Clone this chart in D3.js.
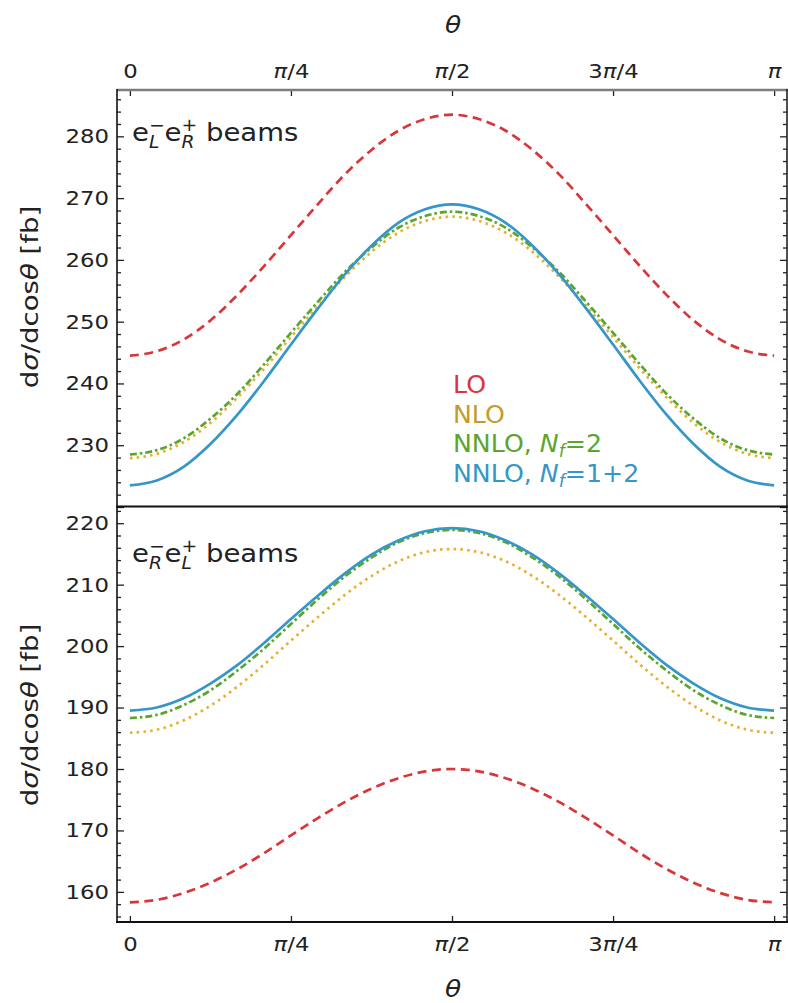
<!DOCTYPE html>
<html>
<head>
<meta charset="utf-8">
<script src="https://cdn.jsdelivr.net/npm/d3@7"></script>
<style>
  body { margin: 0; background: #fff; }
  text { font-family: "DejaVu Sans", sans-serif; }
</style>
</head>
<body>
<div id="chart"></div>
<script>
// theta in units of pi (steps of pi/24)
const thetaPi = [0, 1/24, 2/24, 3/24, 4/24, 5/24, 6/24, 7/24, 8/24, 9/24, 10/24, 11/24, 12/24,
  13/24, 14/24, 15/24, 16/24, 17/24, 18/24, 19/24, 20/24, 21/24, 22/24, 23/24, 1];
const xTicks = [0, 0.25, 0.5, 0.75, 1];
const xTickLabels = ['0', 'π/4', 'π/2', '3π/4', 'π'];

// e_L^- e_R^+ beams (top panel)
const topLO     = [244.5, 245.2, 247.1, 250.2, 254.3, 259.0, 264.0, 269.0, 273.8, 277.8, 280.9, 282.8, 283.5,
                   282.8, 280.9, 277.8, 273.8, 269.0, 264.0, 259.0, 254.3, 250.2, 247.1, 245.2, 244.5];
const topNLO    = [227.9, 228.6, 230.5, 233.6, 237.7, 242.4, 247.5, 252.5, 257.2, 261.3, 264.4, 266.3, 267.0,
                   266.3, 264.4, 261.3, 257.2, 252.5, 247.5, 242.4, 237.7, 233.6, 230.5, 228.6, 227.9];
const topNNLO2  = [228.5, 229.2, 231.1, 234.3, 238.3, 243.1, 248.2, 253.2, 258.0, 262.0, 265.2, 267.1, 267.8,
                   267.1, 265.2, 262.0, 258.0, 253.2, 248.2, 243.1, 238.3, 234.3, 231.1, 229.2, 228.5];
const topNNLO12 = [223.5, 224.3, 226.5, 230.2, 234.9, 240.4, 246.3, 252.1, 257.6, 262.3, 266.0, 268.2, 269.0,
                   268.2, 266.0, 262.3, 257.6, 252.1, 246.3, 240.4, 234.9, 230.2, 226.5, 224.3, 223.5];

// e_R^- e_L^+ beams (bottom panel)
const botLO     = [158.3, 158.7, 159.8, 161.5, 163.7, 166.3, 169.2, 172.0, 174.6, 176.8, 178.5, 179.6, 180.0,
                   179.6, 178.5, 176.8, 174.6, 172.0, 169.2, 166.3, 163.7, 161.5, 159.8, 158.7, 158.3];
const botNLO    = [185.9, 186.4, 187.9, 190.3, 193.4, 197.0, 200.9, 204.7, 208.3, 211.4, 213.8, 215.3, 215.8,
                   215.3, 213.8, 211.4, 208.3, 204.7, 200.9, 197.0, 193.4, 190.3, 187.9, 186.4, 185.9];
const botNNLO2  = [188.3, 188.8, 190.4, 192.8, 196.0, 199.6, 203.6, 207.6, 211.3, 214.4, 216.9, 218.4, 218.9,
                   218.4, 216.9, 214.4, 211.3, 207.6, 203.6, 199.6, 196.0, 192.8, 190.4, 188.8, 188.3];
const botNNLO12 = [189.5, 190.0, 191.5, 193.9, 196.9, 200.5, 204.4, 208.2, 211.8, 214.9, 217.2, 218.7, 219.2,
                   218.7, 217.2, 214.9, 211.8, 208.2, 204.4, 200.5, 196.9, 193.9, 191.5, 190.0, 189.5];

const topYTicks = [230, 240, 250, 260, 270, 280];
const botYTicks = [160, 170, 180, 190, 200, 210, 220];

const legendLabels = ['LO', 'NLO', 'NNLO, N_f=2', 'NNLO, N_f=1+2'];

// line styles per series
const styles = [
  {color: '#d8363a', text: '#d8363a', dash: '9,5.5'},
  {color: '#e6b032', text: '#c59b2e', dash: '2.6,4.2'},
  {color: '#5ba52c', text: '#5ba52c', dash: '7,3,2.5,3'},
  {color: '#3596c8', text: '#3596c8', dash: null}
];

const W = 788, H = 1003;
const SX = 1.14; // horizontal stretch of the tick text in the reference

const svg = d3.select('#chart').append('svg')
  .attr('width', W)
  .attr('height', H);

const x = d3.scaleLinear().domain([-0.02, 1.02]).range([117, 787]);
const yTop = d3.scaleLinear().domain([220, 287.5]).range([507, 90]);
const yBot = d3.scaleLinear().domain([155.1, 222.8]).range([922, 506]);

function piLabel(textSel, s) {
  textSel.text(null);
  const parts = s.split('π');
  parts.forEach((p, i) => {
    if (p) textSel.append('tspan').text(p);
    if (i < parts.length - 1) textSel.append('tspan').attr('font-style', 'italic').text('π');
  });
}

function drawPanel(y, series, top, bottom, id) {
  svg.append('clipPath').attr('id', id)
    .append('rect')
    .attr('x', 117).attr('y', top)
    .attr('width', 670).attr('height', bottom - top);

  const line = d3.line()
    .x((d, i) => x(thetaPi[i]))
    .y(d => y(d))
    .curve(d3.curveMonotoneX);

  const g = svg.append('g').attr('clip-path', 'url(#' + id + ')');
  g.selectAll('path')
    .data(series)
    .enter()
    .append('path')
    .attr('d', d => line(d))
    .attr('fill', 'none')
    .attr('stroke', (d, i) => styles[i].color)
    .attr('stroke-width', 2.7)
    .attr('stroke-dasharray', (d, i) => styles[i].dash);
}

drawPanel(yTop, [topLO, topNLO, topNNLO2, topNNLO12], 90, 507, 'clipTop');
drawPanel(yBot, [botLO, botNLO, botNNLO2, botNNLO12], 506, 922, 'clipBot');

// y axes with inward ticks
function yAxes(y, majors, minors) {
  const left = svg.append('g').attr('transform', 'translate(117,0)');
  left.append('g')
    .call(d3.axisLeft(y).tickValues(minors).tickSize(-4).tickFormat(''));
  left.append('g')
    .call(d3.axisLeft(y).tickValues(majors).tickSize(-7).tickPadding(8 / SX))
    .selectAll('text')
    .attr('font-size', 20)
    .attr('font-family', 'DejaVu Sans')
    .attr('fill', '#222')
    .attr('transform', 'scale(' + SX + ',1)');

  const right = svg.append('g').attr('transform', 'translate(787,0)');
  right.append('g')
    .call(d3.axisRight(y).tickValues(minors).tickSize(-4).tickFormat(''));
  right.append('g')
    .call(d3.axisRight(y).tickValues(majors).tickSize(-7).tickFormat(''));

  svg.selectAll('.domain').remove();
  svg.selectAll('.tick line').attr('stroke', '#222').attr('stroke-width', 1.3);
}
yAxes(yTop, [220].concat(topYTicks), d3.range(222, 288, 2).filter(v => v % 10 != 0));
yAxes(yBot, botYTicks, d3.range(156, 223, 2).filter(v => v % 10 != 0));
// the top panel's 220 label is not shown in the reference
svg.selectAll('.tick text').filter(function(d) { return d === 220 && this.getCTM().f < 512; }).remove();

// x axes
const xTop = svg.append('g').attr('transform', 'translate(0,90)')
  .call(d3.axisTop(x).tickValues(xTicks).tickSize(-6).tickPadding(12));
const xBot = svg.append('g').attr('transform', 'translate(0,922)')
  .call(d3.axisBottom(x).tickValues(xTicks).tickSize(-6).tickPadding(15));

[xTop, xBot].forEach(ax => {
  ax.select('.domain').remove();
  ax.selectAll('.tick line').attr('stroke', '#222').attr('stroke-width', 1.3);
  ax.selectAll('text')
    .attr('font-size', 20)
    .attr('font-family', 'DejaVu Sans')
    .attr('fill', '#222')
    .attr('transform', 'scale(' + SX + ',1)')
    .each(function(d, i) { piLabel(d3.select(this), xTickLabels[i]); });
});

// spines
svg.append('line').attr('x1', 117).attr('x2', 788).attr('y1', 90).attr('y2', 90)
  .attr('stroke', '#7d7d7d').attr('stroke-width', 2.6);
svg.append('line').attr('x1', 117).attr('x2', 117).attr('y1', 89).attr('y2', 923)
  .attr('stroke', '#111').attr('stroke-width', 1.6);
svg.append('line').attr('x1', 787).attr('x2', 787).attr('y1', 89).attr('y2', 923)
  .attr('stroke', '#222').attr('stroke-width', 1.6);
svg.append('line').attr('x1', 116).attr('x2', 788).attr('y1', 506.5).attr('y2', 506.5)
  .attr('stroke', '#111').attr('stroke-width', 2.2);
svg.append('line').attr('x1', 116).attr('x2', 788).attr('y1', 922).attr('y2', 922)
  .attr('stroke', '#111').attr('stroke-width', 2);

// axis titles
function theta(yPos) {
  svg.append('text')
    .attr('transform', 'translate(453,' + yPos + ') scale(1.15,1)')
    .attr('text-anchor', 'middle')
    .attr('font-size', 23)
    .attr('font-style', 'italic')
    .attr('fill', '#222')
    .text('θ');
}
theta(33);
theta(997);

function yTitle(cy) {
  const t = svg.append('text')
    .attr('transform', 'translate(38,' + cy + ') rotate(-90) scale(1.2,1)')
    .attr('text-anchor', 'middle')
    .attr('font-size', 23)
    .attr('fill', '#222');
  t.append('tspan').text('d');
  t.append('tspan').attr('font-style', 'italic').text('σ');
  t.append('tspan').text('/dcos');
  t.append('tspan').attr('font-style', 'italic').text('θ');
  t.append('tspan').text(' [fb]');
}
yTitle(297);
yTitle(715);

// panel labels with stacked super/subscripts
function rich(px, py, parts, size) {
  const g = svg.append('g')
    .attr('transform', 'translate(' + px + ',' + py + ') scale(1.1,1)');
  let cx = 0, lastStart = 0;
  parts.forEach(p => {
    const fs = size * (p.s || 1);
    const start = p.stack ? lastStart : cx + (p.gap || 0) * size;
    const t = g.append('text')
      .attr('x', start)
      .attr('y', (p.dy || 0) * size)
      .attr('font-size', fs)
      .attr('font-style', p.i ? 'italic' : 'normal')
      .attr('fill', '#222')
      .text(p.t);
    const w = t.node().getComputedTextLength();
    if (p.stack) cx = Math.max(cx, start + w);
    else { lastStart = start; cx = start + w; }
  });
}
rich(132, 141, [
  {t: 'e'}, {t: '−', s: 0.68, dy: -0.42}, {t: 'L', s: 0.68, dy: 0.28, i: true, stack: true},
  {t: 'e'}, {t: '+', s: 0.68, dy: -0.42}, {t: 'R', s: 0.68, dy: 0.28, i: true, stack: true},
  {t: 'beams', gap: 0.32}
], 25);
rich(132, 562, [
  {t: 'e'}, {t: '−', s: 0.68, dy: -0.42}, {t: 'R', s: 0.68, dy: 0.28, i: true, stack: true},
  {t: 'e'}, {t: '+', s: 0.68, dy: -0.42}, {t: 'L', s: 0.68, dy: 0.28, i: true, stack: true},
  {t: 'beams', gap: 0.32}
], 25);

// legend (text only, coloured)
const legend = svg.append('g');
legendLabels.forEach((lab, i) => {
  const t = legend.append('text')
    .attr('transform', 'translate(453,' + (393 + i * 29.7) + ') scale(1.03,1)')
    .attr('font-size', 24.5)
    .attr('fill', styles[i].text);
  const m = lab.split('N_f');
  t.append('tspan').text(m[0]);
  if (m.length > 1) {
    t.append('tspan').attr('font-style', 'italic').text('N');
    t.append('tspan').attr('font-style', 'italic').attr('font-size', 17).attr('dy', 5).text('f');
    t.append('tspan').attr('dy', -5).text(m[1]);
  }
});
</script>
</body>
</html>
